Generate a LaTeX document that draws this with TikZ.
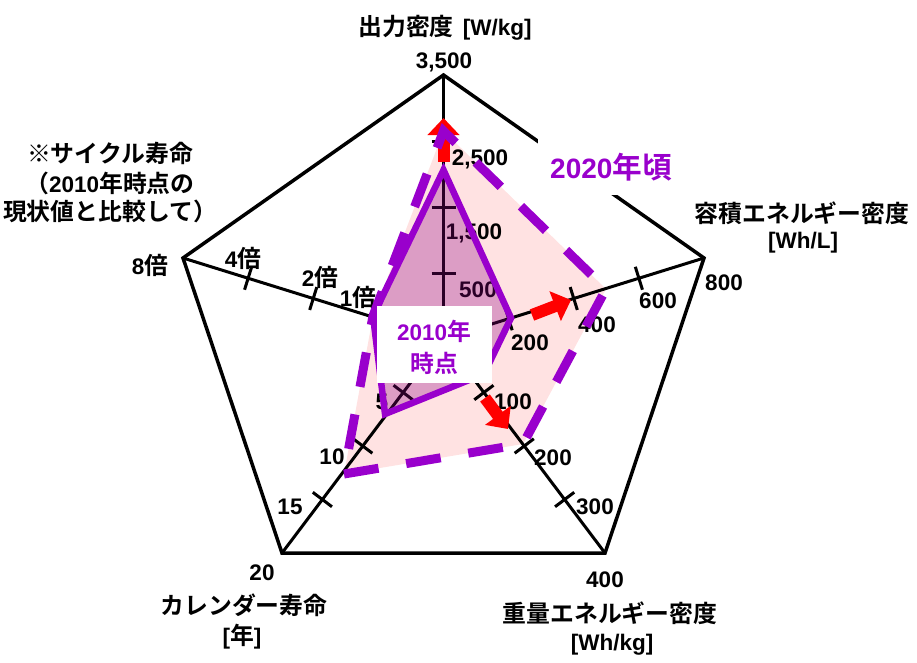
\documentclass[tikz,border=0pt]{standalone}
\usepackage{fontspec}
\setmainfont{Liberation Sans}
\newfontfamily\jp[Scale=1.06]{Noto Sans CJK JP Bold}
\usetikzlibrary{calc,arrows.meta}
\definecolor{pur}{RGB}{153,0,204}
\definecolor{fillA}{RGB}{255,226,226}
\definecolor{fillB}{RGB}{140,0,130}
\newcommand\J[1]{{\normalfont\jp #1}}
\begin{document}
\begin{tikzpicture}[x=1pt,y=-1pt,
  lbl/.style={font=\fontsize{22.5}{27}\selectfont\bfseries, inner sep=0pt},
  frame/.style={line width=3.5pt, line join=miter},
  axisline/.style={line width=3pt},
  tickmark/.style={line width=3pt},
  oldline/.style={draw=pur, line width=6.5pt, line join=miter},
  newline/.style={draw=pur, line width=9pt, dash pattern=on 35pt off 28pt, line join=miter},
  redarrow/.style={draw=red, line width=12pt, -{Triangle[length=17pt,width=31pt]}},
  purlbl/.style={font=\fontsize{22.5}{27}\selectfont\bfseries, inner sep=0pt, text=pur}]
\useasboundingbox (0,0) rectangle (917,662);
% frame points
\coordinate (C) at (443.5,339);
\coordinate (T) at (443.5,75);
\coordinate (R) at (704,258);
\coordinate (BR) at (605,553);
\coordinate (BL) at (282,553);
\coordinate (L) at (183,258);
% 2020 polygon
\coordinate (n1) at (443.5,131);
\coordinate (n2) at (606,289);
\coordinate (n3) at (523,444);
\coordinate (n4) at (344,474);
\coordinate (n5) at (373,316);
% 2010 polygon
\coordinate (o1) at (443.5,170);
\coordinate (o2) at (511,318);
\coordinate (o3) at (484,374);
\coordinate (o4) at (385,414);
\coordinate (o5) at (373,316);
% 2020 fill
\fill[fillA] (n1) -- (n2) -- (n3) -- (n4) -- (n5) -- cycle;
% pentagon and axes
\draw[frame] (T) -- (R) -- (BR) -- (BL) -- (L) -- cycle;
\foreach \v in {T,R,BR,BL,L} \draw[axisline] (C) -- (\v);
\foreach \v in {T,R,BR,BL} {
  \foreach \f in {0.25,0.5,0.75} {
    \coordinate (p) at ($(C)!\f!(\v)$);
    \draw[tickmark] ($(p)!12pt!90:(\v)$) -- ($(p)!12pt!-90:(\v)$);
  }
}
\foreach \f in {0.5,0.75} {
  \coordinate (p) at ($(C)!\f!(L)$);
  \draw[tickmark] ($(p)!12pt!90:(L)$) -- ($(p)!12pt!-90:(L)$);
}
% scale labels
\node[lbl] (t3500) at (444,62) {3,500};
\node[lbl] (t2500) at (480,159) {2,500};
\node[lbl] (t1500) at (474,233) {1,500};
\node[lbl] (t500) at (478,290) {500};
\node[lbl] (v200) at (530,343) {200};
\node[lbl] (v400) at (597,325) {400};
\node[lbl] (v600) at (658,301) {600};
\node[lbl] (v800) at (724,283) {800};
\node[lbl] (w100) at (513,402) {100};
\node[lbl] (w200) at (553,458) {200};
\node[lbl] (w300) at (595,507) {300};
\node[lbl] (w400) at (605,580) {400};
\node[lbl] (c20) at (262,573) {20};
\node[lbl] (c15) at (290,507) {15};
\node[lbl] (c10) at (332,457) {10};
\node[lbl] (c5) at (382,402) {5};
\node[lbl] (x1) at (358,297) {1\J{倍}};
\node[lbl] (x2) at (320,277) {2\J{倍}};
\node[lbl] (x4) at (243,258) {4\J{倍}};
\node[lbl] (x8) at (150,265) {8\J{倍}};
% axis titles
\node[lbl] (ttop) at (445,28) {\J{出力密度}\hspace{9pt}[W/kg]};
\node[lbl] (tright1) at (802,213) {\J{容積エネルギー密度}};
\node[lbl] (tright2) at (803,243) {[Wh/L]};
\node[lbl] (tbr1) at (610,613) {\J{重量エネルギー密度}};
\node[lbl] (tbr2) at (612,645) {[Wh/kg]};
\node[lbl] (tbl1) at (244,605) {\J{カレンダー寿命}};
\node[lbl] (tbl2) at (242,637) {[\J{年}]};
\node[lbl] (tl1) at (110,153) {\J{※サイクル寿命}};
\node[lbl] (tl2) at (110,183) {\J{（}2010\J{年時点の}};
\node[lbl] (tl3) at (110,211) {\J{現状値と比較して）}};
% 2010 polygon
\fill[fillB, opacity=0.3] (o1) -- (o2) -- (o3) -- (o4) -- (o5) -- cycle;
\draw[oldline] (o1) -- (o2) -- (o3) -- (o4) -- (o5) -- cycle;
% red arrows
\coordinate (a1s) at (443.5,162);
\coordinate (a1e) at (443.5,118);
\coordinate (a2s) at (532,315);
\coordinate (a2e) at (571,300);
\coordinate (a3s) at (485,398);
\coordinate (a3e) at (508,429);
\draw[redarrow] (a1s) -- (a1e);
\draw[redarrow] (a2s) -- (a2e);
\draw[redarrow] (a3s) -- (a3e);
% 2020 polygon outline
\draw[newline] (n4) -- (n3) -- (n2) -- (n1) -- (n5) -- cycle;
% label boxes
\node[fill=white, minimum width=115pt, minimum height=77pt, inner sep=0pt] (box2010) at (434.5,344.5) {};
\node[purlbl] (l2010a) at (434,331) {2010\J{年}};
\node[purlbl] (l2010b) at (434,363) {\J{時点}};
\node[fill=white, minimum width=146pt, minimum height=56pt, inner sep=0pt, text=pur,
      font=\fontsize{28}{32}\selectfont\bfseries] (l2020) at (611,167) {2020\J{年頃}};
\end{tikzpicture}
\end{document}
